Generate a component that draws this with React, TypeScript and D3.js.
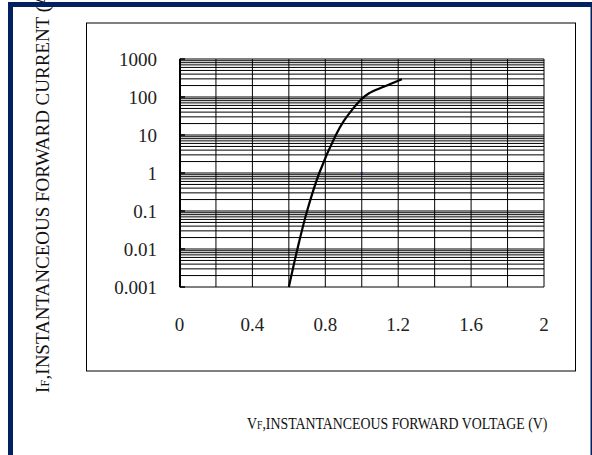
import React from "react";
import * as d3 from "d3";

const voltage = [0.6, 0.647, 0.7, 0.767, 0.858, 0.9, 0.95, 1.0, 1.04, 1.12, 1.22];
const current = [0.001, 0.01, 0.1, 1, 10, 22.7, 48, 89, 126, 186, 295];
const xTicks = [0, 0.4, 0.8, 1.2, 1.6, 2];
const xGrid = [0, 0.2, 0.4, 0.6, 0.8, 1.0, 1.2, 1.4, 1.6, 1.8, 2.0];
const yTicks = [0.001, 0.01, 0.1, 1, 10, 100, 1000];
const yTickLabels = ["0.001", "0.01", "0.1", "1", "10", "100", "1000"];
const markerPoint = { v: 1.0, i: 1 };

const W = 592;
const H = 455;
const FONT = "'Liberation Serif', 'Times New Roman', serif";

export default function App() {
  const x = d3.scaleLinear().domain([0, 2]).range([179.5, 544]);
  const y = d3.scaleLog().domain([0.001, 1000]).range([287, 59]);

  const minor: number[] = [];
  for (let e = -3; e < 3; e++) {
    for (let m = 2; m <= 9; m++) minor.push(m * Math.pow(10, e));
  }

  const pts = voltage.map((v, k) => [v, current[k]] as [number, number]);
  const line = d3
    .line<[number, number]>()
    .x((d) => x(d[0]))
    .y((d) => y(d[1]))
    .curve(d3.curveCatmullRom.alpha(0.5));

  return (
    <svg
      width={W}
      height={H}
      style={{ position: "absolute", left: 0, top: 0, background: "#fff" }}
    >
      <rect x={0} y={0} width={W} height={H} fill="#fff" />
      {/* outer chart frame */}
      <rect x={86.5} y={23} width={489} height={348} fill="none" stroke="#000" strokeWidth={1} />

      {/* minor horizontal grid */}
      {minor.map((m, k) => (
        <line key={"mn" + k} x1={x(0)} x2={x(2)} y1={y(m)} y2={y(m)} stroke="#000" strokeWidth={1} />
      ))}
      {/* major horizontal grid */}
      {yTicks.map((t, k) => (
        <line key={"mj" + k} x1={x(0)} x2={x(2)} y1={y(t)} y2={y(t)} stroke="#000" strokeWidth={1} />
      ))}
      {/* vertical grid */}
      {xGrid.map((t, k) => (
        <line key={"vg" + k} x1={x(t)} x2={x(t)} y1={y(1000)} y2={y(0.001)} stroke="#000" strokeWidth={1} />
      ))}
      {/* y axis line and ticks */}
      <line x1={180} x2={180} y1={y(1000)} y2={y(0.001)} stroke="#000" strokeWidth={2} />
      {yTicks.map((t, k) => (
        <line key={"yt" + k} x1={180} x2={185} y1={y(t)} y2={y(t)} stroke="#000" strokeWidth={1.5} />
      ))}

      {/* curve */}
      <path d={line(pts) || ""} fill="none" stroke="#000" strokeWidth={2.2} />
      <rect x={x(markerPoint.v) - 1} y={y(markerPoint.i) - 1} width={2} height={2} fill="#1a1a8c" />

      {/* y tick labels */}
      {yTicks.map((t, k) => (
        <text
          key={"yl" + k}
          x={157}
          y={y(t)}
          dy="0.35em"
          textAnchor="end"
          fontFamily={FONT}
          fontSize={19}
          fill="#222"
        >
          {yTickLabels[k]}
        </text>
      ))}
      {/* x tick labels */}
      {xTicks.map((t, k) => (
        <text
          key={"xl" + k}
          x={x(t)}
          y={331}
          textAnchor="middle"
          fontFamily={FONT}
          fontSize={19}
          fill="#222"
        >
          {String(t)}
        </text>
      ))}

      {/* x title */}
      <text
        transform="translate(247,429) scale(0.84,1)"
        fontFamily={FONT}
        fontSize={16.5}
        fill="#111"
      >
        V<tspan fontSize={11.5}>F</tspan>,INSTANTANCEOUS FORWARD VOLTAGE (V)
      </text>

      {/* y title */}
      <text
        transform="translate(49,393) rotate(-90)"
        fontFamily={FONT}
        fontSize={19}
        fill="#111"
      >
        I<tspan fontSize={13}>F</tspan>,INSTANTANCEOUS FORWARD CURRENT (A)
      </text>

      {/* navy border */}
      <rect x={10.5} y={4.5} width={582.5} height={520} fill="none" stroke="#03215f" strokeWidth={5} />
    </svg>
  );
}
